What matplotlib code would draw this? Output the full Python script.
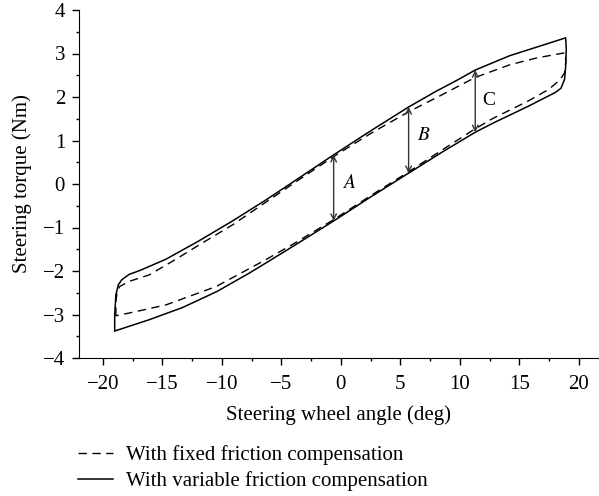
import numpy as np
import matplotlib
matplotlib.use("Agg")
from matplotlib import pyplot as plt
from matplotlib.ticker import MultipleLocator

plt.rcParams['font.family'] = ['Liberation Serif', 'DejaVu Serif']
plt.rcParams['mathtext.fontset'] = 'stix'

# variable friction compensation loop (solid): upper branch, right edge, lower branch
var_x = [-19.0, -19.0, -18.9, -18.7, -18.4, -17.8, -16.9, -14.7, -12.0, -9.1,
         -6.2, -3.5, -0.6, 2.5, 5.7, 8.0, 9.8, 11.3, 14.2, 16.5, 18.9,
         18.95, 18.9, 18.8, 18.5, 18.0,
         15.7, 12.8, 11.3, 8.5, 5.7, 2.5, -0.6, -4.0, -6.2, -7.7, -10.4, -13.3, -16.1, -19.0]
var_y = [-3.36, -3.0, -2.55, -2.32, -2.2, -2.08, -1.99, -1.73, -1.32, -0.85,
         -0.35, 0.14, 0.67, 1.22, 1.77, 2.13, 2.39, 2.62, 2.95, 3.15, 3.36,
         3.1, 2.7, 2.4, 2.2, 2.1,
         1.78, 1.40, 1.19, 0.73, 0.25, -0.30, -0.85, -1.43, -1.80, -2.05, -2.47, -2.84, -3.12, -3.38]

# fixed friction compensation loop (dashed)
fix_x = [-18.9, -18.9, -18.8, -18.6, -17.8, -16.1, -13.8, -11.9, -9.1, -6.2, -3.5,
         -0.6, 2.5, 5.7, 8.5, 11.3, 14.2, 16.5, 18.9,
         18.9, 18.8, 18.4, 17.5,
         15.7, 12.8, 11.3, 8.5, 5.7, 2.5, -0.6, -4.0, -6.3, -10.5, -14.7, -17.5, -18.9]
fix_y = [-3.03, -2.7, -2.48, -2.36, -2.24, -2.09, -1.72, -1.40, -0.94, -0.40, 0.10,
         0.63, 1.16, 1.66, 2.05, 2.45, 2.74, 2.90, 3.02,
         2.8, 2.55, 2.39, 2.18,
         1.90, 1.51, 1.27, 0.78, 0.28, -0.27, -0.82, -1.38, -1.74, -2.36, -2.78, -2.95, -3.03]

# hysteresis width markers
arrow_x = [-0.6, 5.7, 11.3]
arrow_lo = [-0.85, 0.25, 1.19]
arrow_hi = [0.67, 1.77, 2.62]
arrow_names = ['$A$', '$B$', 'C']
name_x = [0.7, 7.0, 12.4]
name_y = [0.02, 1.12, 1.92]

fig = plt.figure(figsize=(5.99, 4.96), dpi=100)
ax = fig.add_axes([79/599, 1 - 358/496, 520/599, 348/496])

l1, = ax.plot(fix_x, fix_y, color='black', lw=1.0, dashes=(6, 4))
l2, = ax.plot(var_x, var_y, color='black', lw=1.1)

for x, lo, hi in zip(arrow_x, arrow_lo, arrow_hi):
    ax.annotate('', xy=(x, hi), xytext=(x, lo),
                arrowprops=dict(arrowstyle='<->', color='#333333', lw=1.0,
                                shrinkA=0, shrinkB=0, mutation_scale=10))
for t, x, y in zip(arrow_names, name_x, name_y):
    ax.text(x, y, t, fontsize=14, ha='center', va='center')

ax.set_xlim(-22, 21.7)
ax.set_ylim(-4, 4)
ax.xaxis.set_major_locator(MultipleLocator(5))
ax.xaxis.set_minor_locator(MultipleLocator(2.5))
ax.yaxis.set_major_locator(MultipleLocator(1))
ax.yaxis.set_minor_locator(MultipleLocator(0.5))
ax.spines['top'].set_visible(False)
ax.spines['right'].set_visible(False)
ax.tick_params(which='major', length=5, width=1, labelsize=15, pad=5)
ax.tick_params(axis='x', which='major', pad=7)
ax.tick_params(which='minor', length=2.5, width=1)
ax.set_xlabel('Steering wheel angle (deg)', fontsize=15, labelpad=8)
ax.set_ylabel('Steering torque (Nm)', fontsize=15, labelpad=8)

fig.legend([l1, l2], ['With fixed friction compensation', 'With variable friction compensation'],
           loc='upper left', bbox_to_anchor=(78/599, 1 - 445/496), frameon=False,
           fontsize=15, handlelength=1.7, handletextpad=0.6, labelspacing=0.3,
           borderaxespad=0, borderpad=0)

fig.savefig('out.png', dpi=100)
